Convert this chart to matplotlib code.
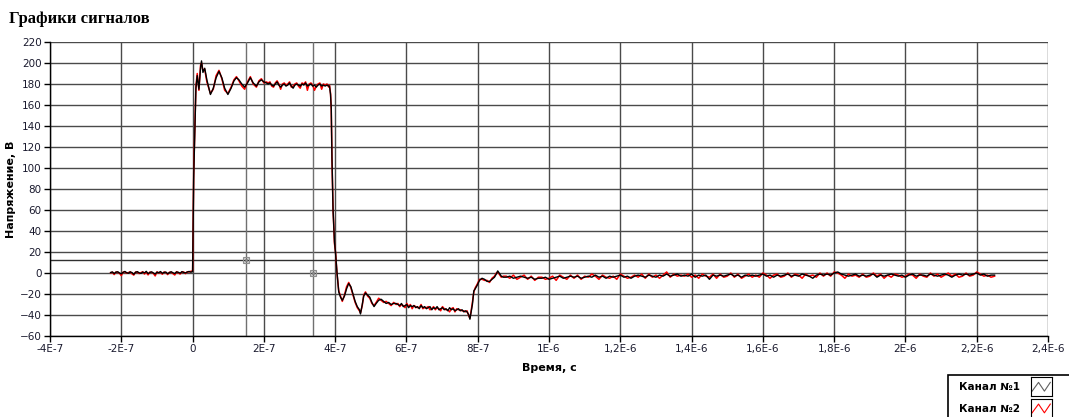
import matplotlib
matplotlib.use("Agg")
import matplotlib.pyplot as plt
import numpy as np
from matplotlib.patches import Rectangle

# --- signal data, time in ns, voltage in V ---
base_t = (-230, 0)
base_ch1 = [0.5, 1.0, -0.5, 0.8, 1.2, 0.0, -0.8, 0.6, 1.5, 0.3, -0.2, 1.0, 0.4, -1.2, 0.7, 1.3,
            0.2, -0.4, 0.9, 0.1, 1.6, -0.6, 0.5, 1.1, 0.0, -1.0, 0.8, 0.3, 1.4, -0.3, 0.6, 0.9,
            -0.7, 0.4, 1.2, 0.2, -0.5, 1.0, 0.7, -0.2, 1.3, 0.5, 0.1, 0.9, 1.5, 0.8, 1.2]
base_ch2 = [0.2, 0.8, -1.5, 1.0, 0.6, -0.3, -2.5, 0.9, 1.0, -0.2, 0.4, 1.2, -0.8, -2.0, 1.0, 0.8,
            -0.5, 0.3, 1.2, -1.0, 1.0, -1.8, 0.9, 0.6, -0.4, -2.8, 1.1, 0.0, 0.9, -1.2, 1.0, 0.4,
            -1.5, 0.8, 0.7, -0.6, -1.9, 1.3, 0.2, -1.0, 0.9, 1.0, -0.6, 1.2, 1.0, 1.6, 2.0]

rise_t = [0, 1, 3, 5.6, 9.3, 13, 17.7, 22.4, 25, 29, 34, 40, 50, 58, 66, 74, 82, 90, 99, 108,
          116, 123, 130, 138, 146, 154, 162, 170, 179, 186, 193, 200, 207]
rise_ch1 = [2, 30, 90, 127, 176, 188, 175, 196, 202, 191, 195, 184, 170, 176, 186, 192, 186, 176,
            170, 176, 183, 186, 184, 180, 177, 181, 186, 181, 178, 182, 184, 182, 181]
rise_ch2 = [2, 28, 95, 130, 178, 190, 174, 198, 200, 193, 194, 182, 171, 175, 188, 193, 185, 174,
            171, 177, 184, 187, 183, 178, 175, 182, 187, 180, 177, 183, 185, 181, 182]

top_t = (212, 382)
top_ch1 = [180, 181, 179, 178, 180, 182, 179, 177, 179, 180, 178, 179, 181, 178, 176, 179, 180,
           179, 178, 180, 179, 181, 178, 179, 180, 178, 179, 177, 179, 180, 178, 179, 178, 179, 178]
top_ch2 = [181, 182, 178, 177, 181, 183, 180, 175, 180, 181, 179, 180, 182, 177, 178, 180, 181,
           178, 176, 181, 180, 182, 174, 180, 181, 179, 174, 178, 180, 181, 175, 180, 179, 180, 177]

fall_t = [384, 387, 389, 391, 394, 398, 401, 405, 410, 415, 420, 426, 432, 438, 444, 450, 456,
          462, 468, 471, 476, 480, 485, 491, 497, 503, 509, 515, 522, 529, 536, 543, 550, 557,
          564, 571]
fall_ch1 = [178, 170, 157, 110, 60, 30, 19, 1, -18, -23, -26, -22, -15, -10, -13, -20, -27, -32,
            -35, -39, -30, -22, -19, -21, -23, -28, -32, -29, -26, -25, -27, -29, -28, -30, -29, -29]
fall_ch2 = [179, 171, 155, 108, 62, 28, 20, 0, -17, -22, -27, -21, -13, -9, -14, -21, -28, -33,
            -36, -38, -31, -21, -18, -22, -24, -29, -31, -28, -24, -26, -28, -27, -29, -31, -28, -30]

low_t = (576, 766)
low_ch1 = [-30, -31, -29, -32, -31, -30, -33, -31, -32, -31, -33, -32, -34, -31, -33, -32, -34,
           -33, -32, -35, -33, -34, -32, -35, -34, -33, -35, -34, -36, -33, -35, -34, -36, -35,
           -34, -36, -35, -37, -36]
low_ch2 = [-29, -32, -30, -31, -33, -29, -32, -30, -34, -31, -32, -33, -33, -30, -34, -33, -33,
           -32, -35, -34, -32, -35, -33, -34, -36, -32, -34, -35, -35, -37, -34, -33, -37, -34,
           -35, -35, -36, -36, -37]

rec_t = [770, 775, 778, 781, 785, 789, 793, 798, 805, 812, 819, 826, 833, 840, 847, 852, 856,
         860, 866, 872]
rec_ch1 = [-37, -40, -44, -38, -30, -17, -15, -12, -7, -5, -6, -8, -8, -6, -4, -1, 2, 0, -3, -4]
rec_ch2 = [-36, -41, -43, -37, -28, -18, -14, -11, -6, -6, -7, -7, -9, -5, -3, 0, 1, -1, -4, -3]

tail_t = (880, 2250)
tail_ch1 = [-4, -3, -5, -4, -3, -4, -5, -4, -6, -5,
            -5, -4, -6, -5, -4, -3, -5, -4, -3, -4,
            -3, -5, -4, -3, -4, -2, -4, -3, -5, -3,
            -4, -3, -2, -4, -3, -5, -3, -2, -3, -4,
            -2, -3, -4, -2, -3, -1, -3, -2, -1, -3,
            -2, -3, -1, -4, -2, -3, -2, -6, -2, -3,
            -2, -3, -2, -1, -3, -2, -4, -2, -3, -2,
            -3, -2, -1, -3, -2, -4, -2, -3, -2, -1,
            -3, -2, -3, -1, -2, -3, -5, -2, -1, -2,
            -1, -2, 0, 1, -1, -2, -3, -2, -1, -3,
            -2, -3, -2, -1, -4, -2, -3, -2, -1, -2,
            -3, -2, -4, -2, -1, -3, -2, -2, -3, -1,
            -2, -3, -2, -1, -2, -4, -2, -1, -2, -1,
            -2, -1, 0, -2, -1, -3, -2, -2]
tail_ch2 = [-3, -5, -2, -6, -4, -2, -6, -3, -7, -4,
            -4, -6, -5, -3, -7, -2, -4, -6, -2, -5,
            -2, -6, -3, -4, -1, -3, -6, -2, -4, -5,
            -3, -6, -1, -3, -5, -4, -2, -4, -1, -5,
            -1, -4, -2, -5, -2, 1, -4, -1, -3, -2,
            -3, -1, -4, -2, -5, -1, -3, -4, -1, -5,
            -1, -4, -3, 0, -4, -1, -5, -3, -1, -4,
            -2, -4, 0, -2, -5, -2, -1, -4, -3, 0,
            -4, -1, -2, -5, -1, -3, -2, -4, 0, -3,
            0, -3, 1, 0, -2, -5, -1, -3, -2, -4,
            -1, -4, -3, 0, -3, -1, -5, -2, -4, -1,
            -2, -4, -3, -1, -2, -5, -1, -3, -4, 0,
            -3, -1, -4, -2, 0, -3, -1, -4, -3, 0,
            -3, -2, 1, -1, -3, -2, -4, -3]

# cursors: (time ns, voltage)
cursors = [(151, 12), (337, 0)]

x_ticks = [-4e-7, -2e-7, 0, 2e-7, 4e-7, 6e-7, 8e-7, 1e-6, 1.2e-6, 1.4e-6, 1.6e-6, 1.8e-6,
           2e-6, 2.2e-6, 2.4e-6]
x_labels = ["-4E-7", "-2E-7", "0", "2E-7", "4E-7", "6E-7", "8E-7", "1E-6", "1,2E-6", "1,4E-6",
            "1,6E-6", "1,8E-6", "2E-6", "2,2E-6", "2,4E-6"]
y_ticks = list(range(-60, 221, 20))


def build(ch):
    # glue segments together; uniform segments get evenly spaced sample times
    segs = [(base_t, [base_ch1, base_ch2][ch]), (rise_t, [rise_ch1, rise_ch2][ch]),
            (top_t, [top_ch1, top_ch2][ch]), (fall_t, [fall_ch1, fall_ch2][ch]),
            (low_t, [low_ch1, low_ch2][ch]), (rec_t, [rec_ch1, rec_ch2][ch]),
            (tail_t, [tail_ch1, tail_ch2][ch])]
    tt, vv = [], []
    for t, v in segs:
        if isinstance(t, tuple):
            t = np.linspace(t[0], t[1], len(v))
        tt.extend(t)
        vv.extend(v)
    return np.array(tt) * 1e-9, np.array(vv, dtype=float)


fig = plt.figure(figsize=(10.69, 4.17), dpi=100)
ax = fig.add_axes([0.0468, 0.1942, 0.9336, 0.7051])

grid_c = "#4a4a4a"
for xt in x_ticks:
    ax.axvline(xt, color=grid_c, lw=1.0, zorder=1)
for yt in y_ticks:
    ax.axhline(yt, color=grid_c, lw=1.0, zorder=1)

# cursor lines
for ct, cv in cursors:
    ax.axvline(ct * 1e-9, color="#707070", lw=1.0, zorder=1)
ax.axhline(cursors[0][1], color="#303030", lw=1.0, zorder=1)

t2, v2 = build(1)
t1, v1 = build(0)
ax.plot(t2, v2, color="red", lw=1.1, zorder=3)
ax.plot(t1, v1, color="black", lw=1.0, zorder=4)

for ct, cv in cursors:
    ax.plot(ct * 1e-9, cv, marker="s", ms=4, mfc="none", mec="#909090", mew=0.8, zorder=5)
    ax.plot(ct * 1e-9, cv, marker="x", ms=3.5, color="#909090", mew=0.8, zorder=5)

ax.set_xlim(-4e-7, 2.4e-6)
ax.set_ylim(-60, 220)
ax.set_xticks(x_ticks)
ax.set_xticklabels(x_labels)
ax.set_yticks(y_ticks)
for s in ["top", "right"]:
    ax.spines[s].set_visible(False)
for s in ["left", "bottom"]:
    ax.spines[s].set_color("black")
    ax.spines[s].set_linewidth(1.0)
ax.tick_params(direction="out", length=4, width=1, labelsize=7.5, colors="black",
               labelcolor="#1a1a2e", pad=2)
ax.set_xlabel("Время, с", fontsize=8, fontweight="bold", labelpad=6)
ax.set_ylabel("Напряжение, В", fontsize=8, fontweight="bold", labelpad=3)

fig.text(0.008, 0.955, "Графики сигналов", fontsize=12, fontweight="bold",
         family="Liberation Serif", ha="left", va="center")

# legend panel in the lower right corner
fig.patches.append(Rectangle((0.887, -0.01), 0.12, 0.11, transform=fig.transFigure,
                             fill=False, ec="black", lw=1.2))
names = ["Канал №1", "Канал №2"]
colors = ["#606060", "red"]
for i, (nm, c) in enumerate(zip(names, colors)):
    yc = 0.072 - i * 0.052
    fig.text(0.897, yc, nm, fontsize=7.5, fontweight="bold", va="center", ha="left")
    icon = fig.add_axes([0.964, yc - 0.022, 0.02, 0.045])
    icon.set_xlim(0, 4)
    icon.set_ylim(0, 3)
    icon.plot([0.3, 1.5, 2.6, 3.7], [0.8, 2.2, 0.8, 2.2], color=c, lw=0.8)
    icon.set_xticks([])
    icon.set_yticks([])
    for sp in icon.spines.values():
        sp.set_color("black")
        sp.set_linewidth(0.8)

fig.savefig("out.png", dpi=100)
